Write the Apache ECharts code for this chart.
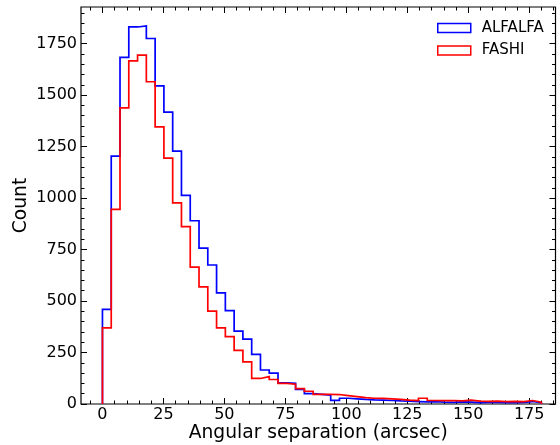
<!DOCTYPE html>
<html>
<head>
<meta charset="utf-8">
<script src="https://cdn.jsdelivr.net/npm/echarts@6/dist/echarts.min.js"></script>
<style>
html,body{margin:0;padding:0;background:#fff;}
#chart{width:560px;height:445px;}
</style>
</head>
<body>
<div id="chart"></div>
<script>
// Histogram bins: width 3.6 arcsec, starting at 0
const binStart = 0;
const binWidth = 3.6;
const alfalfaCounts = [460,1204,1683,1831,1836,1775,1545,1417,1228,1013,890,757,675,540,453,354,315,241,165,150,103,100,71,50,47,43,18,28,25,22,20,19,17,15,14,12,10,11,9,8,10,9,7,8,8,7,6,8,12,6];
const fashiCounts   = [370,945,1438,1666,1694,1565,1346,1194,977,861,665,569,451,370,327,260,205,124,133,119,100,96,75,62,47,47,46,41,36,31,28,27,25,22,19,17,28,17,16,17,15,19,14,13,14,12,13,12,17,9];
const seriesNames = ['ALFALFA','FASHI'];
const seriesColors = ['#0000ff','#ff0000'];

const xMajorTicks = [0,25,50,75,100,125,150,175];
const yMajorTicks = [0,250,500,750,1000,1250,1500,1750];
const xMinorStep = 5;
const yMinorStep = 50;
const xRange = [-8.8, 185.8];
const yRange = [0, 1928];

function minorTicks(range, step, majors) {
  const out = [];
  const s = Math.ceil(range[0] / step) * step;
  for (let v = s; v <= range[1] + 1e-9; v += step) {
    const r = Math.round(v * 1000) / 1000;
    if (majors.indexOf(r) < 0) out.push(r);
  }
  return out;
}
const xMinorTicks = minorTicks(xRange, xMinorStep, xMajorTicks);
const yMinorTicks = minorTicks(yRange, yMinorStep, yMajorTicks);

function outline(counts) {
  const pts = [[binStart, 0]];
  counts.forEach((c, i) => {
    const x0 = binStart + i * binWidth;
    const x1 = binStart + (i + 1) * binWidth;
    pts.push([x0, c]);
    pts.push([x1, c]);
  });
  pts.push([binStart + counts.length * binWidth, 0]);
  return pts;
}

const FONT = 'DejaVu Sans';
const chart = echarts.init(document.getElementById('chart'), null, {renderer: 'canvas'});
const plain = v => String(v);

function xAxisDef(position, ticks, len, showLabels, extra) {
  return Object.assign({
    type: 'value', gridIndex: 0, position: position,
    min: xRange[0], max: xRange[1],
    axisLine: {show: false, onZero: false},
    splitLine: {show: false},
    axisTick: {show: true, inside: true, length: len, customValues: ticks, lineStyle: {color: '#000', width: 1}},
    axisLabel: showLabels ? {show: true, customValues: ticks, formatter: plain, fontFamily: FONT, fontSize: 16, color: '#000', margin: 3} : {show: false}
  }, extra || {});
}
function yAxisDef(position, ticks, len, showLabels, extra) {
  return Object.assign({
    type: 'value', gridIndex: 0, position: position,
    min: yRange[0], max: yRange[1],
    axisLine: {show: false, onZero: false},
    splitLine: {show: false},
    axisTick: {show: true, inside: true, length: len, customValues: ticks, lineStyle: {color: '#000', width: 1}},
    axisLabel: showLabels ? {show: true, customValues: ticks, formatter: plain, fontFamily: FONT, fontSize: 16, color: '#000', margin: 4} : {show: false}
  }, extra || {});
}

const option = {
  animation: false,
  backgroundColor: '#fff',
  grid: {left: 81, right: 4.5, top: 7, bottom: 41, containLabel: false, outerBoundsMode: 'none', show: true, borderColor: '#000', borderWidth: 1.2, backgroundColor: 'transparent'},
  legend: {
    orient: 'vertical', left: 437, top: 20.5,
    itemWidth: 33, itemHeight: 9, itemGap: 7.5, padding: 0,
    icon: 'rect',
    textStyle: {fontFamily: FONT, fontSize: 15, color: '#000', padding: [0,0,0,6]},
    data: seriesNames.map((n, i) => ({name: n, icon: 'rect', itemStyle: {color: 'rgba(0,0,0,0)', borderColor: seriesColors[i], borderWidth: 1.5}}))
  },
  xAxis: [
    xAxisDef('bottom', xMajorTicks, 6, true, {name: 'Angular separation (arcsec)', nameLocation: 'middle', nameGap: 20, nameMoveOverlap: false, nameTextStyle: {fontFamily: FONT, fontSize: 18.7, color: '#000'}}),
    xAxisDef('bottom', xMinorTicks, 3.5, false),
    xAxisDef('top', xMajorTicks, 6, false),
    xAxisDef('top', xMinorTicks, 3.5, false)
  ],
  yAxis: [
    yAxisDef('left', yMajorTicks, 6, true, {name: 'Count', nameLocation: 'middle', nameGap: 50, nameMoveOverlap: false, nameTextStyle: {fontFamily: FONT, fontSize: 18.7, color: '#000'}}),
    yAxisDef('left', yMinorTicks, 3.5, false),
    yAxisDef('right', yMajorTicks, 6, false),
    yAxisDef('right', yMinorTicks, 3.5, false)
  ],
  series: [alfalfaCounts, fashiCounts].map((counts, i) => ({
    name: seriesNames[i], type: 'line', xAxisIndex: 0, yAxisIndex: 0,
    data: outline(counts), showSymbol: false, symbol: 'none', silent: true,
    itemStyle: {color: seriesColors[i]},
    lineStyle: {color: seriesColors[i], width: 1.7, join: 'miter'},
    z: 2 + i
  }))
};
chart.setOption(option);
</script>
</body>
</html>
